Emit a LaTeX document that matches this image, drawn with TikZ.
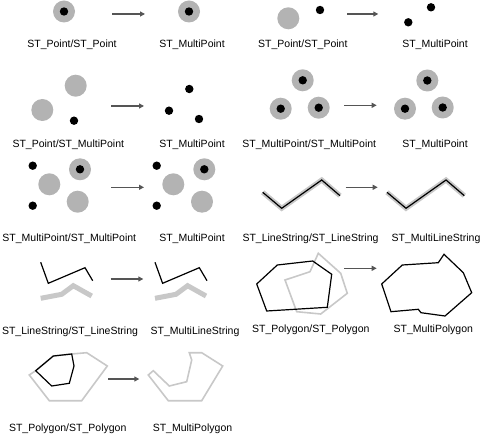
\documentclass[tikz,border=0pt]{standalone}
\usepackage{fontspec}
\setmainfont{Liberation Sans}
\usetikzlibrary{arrows.meta}
\definecolor{ptgray}{HTML}{B3B3B3}
\definecolor{lngray}{HTML}{C8C8C8}
\definecolor{arrgray}{HTML}{555555}
\begin{document}
\begin{tikzpicture}[x=1pt,y=-1pt,
    lbl/.style={font=\fontsize{10.5}{12}\selectfont, inner sep=0pt},
    arr/.style={arrgray, line width=1.2pt, -{Triangle[length=5pt,width=5pt]}},
    blob/.style={fill=ptgray},
    dot/.style={fill=black},
    geom/.style={line width=1.2pt, line join=miter},
    shadow/.style={lngray, line width=1.6pt, line join=miter}]
    \useasboundingbox (0,0) rectangle (481,435);
    \fill[blob] (64,11.5) circle (11pt) (189,11.5) circle (11pt);
    \fill[dot] (64,11.5) circle (4.2pt) (189,11.5) circle (4.2pt);
    \coordinate (a1s) at (112,14); \coordinate (a1e) at (145,14);
    \draw[arr] (a1s) -- (a1e);
    \node[lbl] (l1a) at (72,44.5) {ST\_Point/ST\_Point};
    \node[lbl] (l1b) at (192,44.5) {ST\_MultiPoint};
    \fill[blob] (288.3,18.3) circle (11pt);
    \fill[dot] (320,10) circle (4.2pt) (431,7.3) circle (4.2pt) (408.3,22.3) circle (4.2pt);
    \coordinate (a2s) at (347.3,14); \coordinate (a2e) at (378.3,14);
    \draw[arr] (a2s) -- (a2e);
    \node[lbl] (l2a) at (302.8,44.5) {ST\_Point/ST\_Point};
    \node[lbl] (l2b) at (435,44.5) {ST\_MultiPoint};
    \fill[blob] (75.7,85.7) circle (11pt) (42.3,110) circle (11pt);
    \fill[dot] (74,120.7) circle (4.2pt) (189.3,89) circle (4.2pt) (169,110.7) circle (4.2pt) (199,119) circle (4.2pt);
    \coordinate (a3s) at (111,106); \coordinate (a3e) at (144,106);
    \draw[arr] (a3s) -- (a3e);
    \node[lbl] (l3a) at (68.3,144.5) {ST\_Point/ST\_MultiPoint};
    \node[lbl] (l3b) at (192,144.5) {ST\_MultiPoint};
    \fill[blob] (302.7,80.3) circle (11pt) (280.7,108.7) circle (11pt) (318.7,107.7) circle (11pt)
        (427.3,80.5) circle (11pt) (405,108.7) circle (11pt) (442.7,107.5) circle (11pt);
    \fill[dot] (302.7,80.3) circle (4.2pt) (280.7,108.7) circle (4.2pt) (318.7,107.7) circle (4.2pt)
        (427.3,80.5) circle (4.2pt) (405,108.7) circle (4.2pt) (442.7,107.5) circle (4.2pt);
    \coordinate (a4s) at (344,105.3); \coordinate (a4e) at (376.7,105.3);
    \draw[arr] (a4s) -- (a4e);
    \node[lbl] (l4a) at (309.3,144.5) {ST\_MultiPoint/ST\_MultiPoint};
    \node[lbl] (l4b) at (435,144.5) {ST\_MultiPoint};
    \fill[blob] (49.3,184.3) circle (11pt) (80,169.3) circle (11pt) (77.7,201.7) circle (11pt)
        (173.3,184.3) circle (11pt) (204.3,169.3) circle (11pt) (202,201.7) circle (11pt);
    \fill[dot] (32.7,165.7) circle (4.2pt) (32.7,205.7) circle (4.2pt) (80,169.3) circle (4.2pt)
        (156.7,165.7) circle (4.2pt) (156.7,205.7) circle (4.2pt) (204.3,169.3) circle (4.2pt);
    \coordinate (a5s) at (111,187.3); \coordinate (a5e) at (144,187.3);
    \draw[arr] (a5s) -- (a5e);
    \node[lbl] (l5a) at (69.3,239) {ST\_MultiPoint/ST\_MultiPoint};
    \node[lbl] (l5b) at (192,239) {ST\_MultiPoint};
    \draw[lngray, line width=5pt] (262.7,192.3) -- (281.7,208.3) -- (321.7,180) -- (340,195.7)
        (387,192.3) -- (406,208.3) -- (446,180) -- (464.3,195.7);
    \draw[geom] (262.7,192.3) -- (281.7,208.3) -- (321.7,180) -- (340,195.7)
        (387,192.3) -- (406,208.3) -- (446,180) -- (464.3,195.7);
    \coordinate (a6s) at (345.7,187.3); \coordinate (a6e) at (377.7,187.3);
    \draw[arr] (a6s) -- (a6e);
    \node[lbl] (l6a) at (310.5,239) {ST\_LineString/ST\_LineString};
    \node[lbl] (l6b) at (436,239) {ST\_MultiLineString};
    \draw[lngray, line width=5pt] (40.7,298.3) -- (61.7,294.3) -- (73.3,285.7) -- (91.7,296)
        (155,298.3) -- (176,294.3) -- (187.6,285.7) -- (206,296);
    \draw[geom] (40.7,262.3) -- (48.3,283.3) -- (85,267.7) -- (92.7,280.7)
        (155,262.3) -- (162.6,283.3) -- (199.3,267.7) -- (207,280.7);
    \coordinate (a7s) at (110.7,279); \coordinate (a7e) at (143.3,279);
    \draw[arr] (a7s) -- (a7e);
    \node[lbl] (l7a) at (70,332) {ST\_LineString/ST\_LineString};
    \node[lbl] (l7b) at (195,332) {ST\_MultiLineString};
    \draw[shadow] (318.3,253.3) -- (340.7,273.3) -- (347.3,293.3) -- (320.7,314) -- (296.7,311.7)
        -- (285,280) -- (310,271.7) -- cycle;
    \draw[geom] (256.7,284) -- (277.3,265) -- (312.7,261) -- (331.7,274.3) -- (327.3,307.3)
        -- (266.7,311) -- cycle;
    \draw[geom] (381.7,284) -- (402.3,265) -- (438.3,262.7) -- (444,254.3) -- (463.3,272.7)
        -- (471.7,292.7) -- (445,316) -- (421,312.7) -- (418.3,309.3) -- (391,311.7) -- cycle;
    \coordinate (a8s) at (344,268.3); \coordinate (a8e) at (376.7,268.3);
    \draw[arr] (a8s) -- (a8e);
    \node[lbl] (l8a) at (310.8,330) {ST\_Polygon/ST\_Polygon};
    \node[lbl] (l8b) at (433.3,330) {ST\_MultiPolygon};
    \draw[shadow] (29.3,375) -- (49.3,400.7) -- (81.7,400.7) -- (107.3,366) -- (86.7,352.7)
        -- (71.7,354) -- (53.3,356) -- (35.7,370.7) -- cycle;
    \draw[geom] (35.7,370.7) -- (53.3,356) -- (71.7,354) -- (74,366) -- (69.3,383.3)
        -- (51.7,386) -- cycle;
    \draw[shadow] (153.3,370.7) -- (169.3,386) -- (186.7,381.7) -- (191.7,360) -- (189.3,352.7)
        -- (201.7,352.7) -- (222.7,366) -- (201.7,400.7) -- (168.3,400.7) -- (148.3,375) -- cycle;
    \coordinate (a9s) at (108.3,379); \coordinate (a9e) at (139.3,379);
    \draw[arr] (a9s) -- (a9e);
    \node[lbl] (l9a) at (67.7,429) {ST\_Polygon/ST\_Polygon};
    \node[lbl] (l9b) at (192.5,429) {ST\_MultiPolygon};
\end{tikzpicture}
\end{document}
